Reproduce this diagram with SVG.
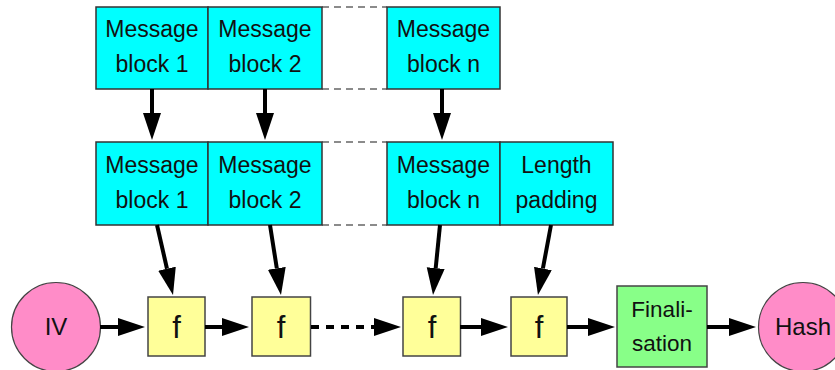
<svg xmlns="http://www.w3.org/2000/svg" width="835" height="370" viewBox="0 0 835 370">
<style>
.blk{fill:#00ffff;stroke:#333;stroke-width:1.5}
.fbox{fill:#ffff99;stroke:#444;stroke-width:1.5}
.fin{fill:#88ff88;stroke:#444;stroke-width:1.5}
.circ{fill:#ff8cc8;stroke:#444;stroke-width:1.2}
.t{font-family:"Liberation Sans",Arial,sans-serif;font-size:23px;fill:#111;text-anchor:middle}
.ft{font-family:"Liberation Sans",Arial,sans-serif;font-size:31px;fill:#111;text-anchor:middle}
.dash{stroke:#666;stroke-width:1.5;stroke-dasharray:7 5;fill:none}
.arr{stroke:#000;stroke-width:4;fill:none;marker-end:url(#ah)}
.arrd{stroke:#000;stroke-width:4;fill:none;stroke-dasharray:8 7;marker-end:url(#ah)}
</style>
<defs>
<marker id="ah" markerUnits="userSpaceOnUse" markerWidth="28" markerHeight="20" refX="0" refY="9" orient="auto">
<path d="M0,0 L27,9 L0,18 z" fill="#000"/>
</marker>
</defs>
<rect width="835" height="370" fill="#fff"/>
<g id="dashes">
<line class="dash" x1="322" y1="7" x2="387" y2="7"/>
<line class="dash" x1="322" y1="89" x2="387" y2="89"/>
<line class="dash" x1="322" y1="142" x2="387" y2="142"/>
<line class="dash" x1="322" y1="225" x2="387" y2="225"/>
</g>
<g id="top1"><rect class="blk" x="96" y="7" width="112" height="82"/><text class="t" x="152" y="37">Message</text><text class="t" x="152" y="72">block 1</text></g>
<g id="top2"><rect class="blk" x="208" y="7" width="114" height="82"/><text class="t" x="265" y="37">Message</text><text class="t" x="265" y="72">block 2</text></g>
<g id="topn"><rect class="blk" x="387" y="7" width="113" height="82"/><text class="t" x="443.5" y="37">Message</text><text class="t" x="443.5" y="72">block n</text></g>
<g id="mid1"><rect class="blk" x="96" y="142" width="112" height="83"/><text class="t" x="152" y="173">Message</text><text class="t" x="152" y="208">block 1</text></g>
<g id="mid2"><rect class="blk" x="208" y="142" width="114" height="83"/><text class="t" x="265" y="173">Message</text><text class="t" x="265" y="208">block 2</text></g>
<g id="midn"><rect class="blk" x="387" y="142" width="113" height="83"/><text class="t" x="443.5" y="173">Message</text><text class="t" x="443.5" y="208">block n</text></g>
<g id="pad"><rect class="blk" x="500" y="142" width="113" height="83"/><text class="t" x="556.5" y="173">Length</text><text class="t" x="556.5" y="208">padding</text></g>
<g id="iv"><circle class="circ" cx="56" cy="327" r="44.5"/><text class="t" x="56" y="335" style="font-size:24px">IV</text></g>
<g id="f1"><rect class="fbox" x="148" y="297" width="57" height="59"/><text class="ft" x="176.5" y="338">f</text></g>
<g id="f2"><rect class="fbox" x="252" y="297" width="58.5" height="59"/><text class="ft" x="281" y="338">f</text></g>
<g id="f3"><rect class="fbox" x="403" y="297" width="57.5" height="59"/><text class="ft" x="432" y="338">f</text></g>
<g id="f4"><rect class="fbox" x="511" y="297" width="56" height="59"/><text class="ft" x="539" y="338">f</text></g>
<g id="final"><rect class="fin" x="617" y="286" width="90" height="81"/><text class="t" x="662" y="317" style="font-size:22.5px">Finali-</text><text class="t" x="662" y="351" style="font-size:22.5px">sation</text></g>
<g id="hash"><circle class="circ" cx="803" cy="327" r="44.5"/><text class="t" x="803" y="335" style="font-size:24px">Hash</text></g>
<g id="connectors">
<line class="arr" x1="152" y1="89" x2="152" y2="113"/>
<line class="arr" x1="265" y1="89" x2="265" y2="113"/>
<line class="arr" x1="442" y1="89" x2="442" y2="113"/>
<line class="arr" x1="157" y1="225" x2="167" y2="268.7"/>
<line class="arr" x1="270" y1="225" x2="276.8" y2="268.3"/>
<line class="arr" x1="440" y1="225" x2="435.7" y2="268.1"/>
<line class="arr" x1="551" y1="225" x2="542.9" y2="268.5"/>
<line class="arr" x1="100" y1="327" x2="118" y2="327"/>
<line class="arr" x1="205" y1="327" x2="222" y2="327"/>
<line class="arrd" x1="311" y1="327" x2="374" y2="327"/>
<line class="arr" x1="460" y1="327" x2="481" y2="327"/>
<line class="arr" x1="567" y1="327" x2="588" y2="327"/>
<line class="arr" x1="707" y1="327" x2="729" y2="327"/>
</g>
</svg>
